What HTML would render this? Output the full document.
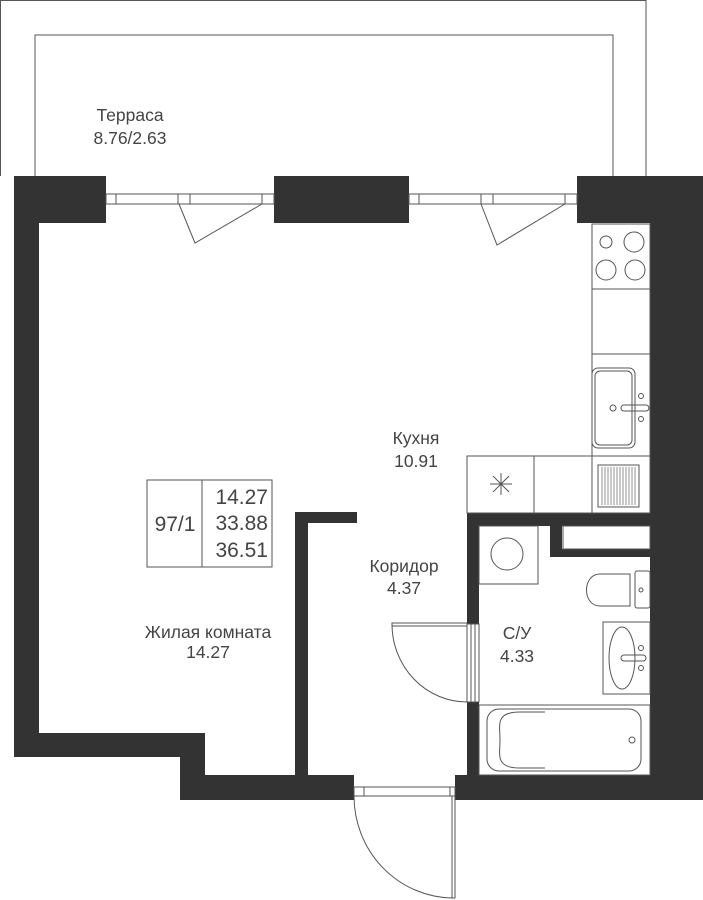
<!DOCTYPE html>
<html><head><meta charset="utf-8"><style>
html,body{margin:0;padding:0;background:#fff;}
svg{display:block;}
text{font-family:"Liberation Sans",sans-serif;fill:#444;}
</style></head><body>
<svg width="703" height="900" viewBox="0 0 703 900" xmlns="http://www.w3.org/2000/svg">
<g fill="none" stroke="#555" stroke-width="1">
<polyline points="0.5,176 0.5,0.5 646,0.5 646,176"/>
<polyline points="35,176 35,35 613,35 613,176"/>
</g>
<g fill="#333">
<rect x="14" y="176" width="92" height="47"/>
<rect x="274" y="176" width="135" height="47"/>
<rect x="577" y="176" width="126" height="47"/>
<rect x="14" y="176" width="25" height="581"/>
<rect x="14" y="733" width="191" height="24"/>
<rect x="180" y="733" width="25" height="67"/>
<rect x="180" y="775" width="174" height="25"/>
<rect x="295" y="512" width="13" height="263"/>
<rect x="295" y="512" width="62" height="11"/>
<rect x="650" y="176" width="53" height="624"/>
<rect x="455" y="775" width="248" height="25"/>
<rect x="467" y="513" width="183" height="13"/>
<rect x="467" y="513" width="12" height="111"/>
<rect x="467" y="702" width="12" height="73"/>
<rect x="550" y="526" width="12" height="31"/>
<rect x="550" y="549" width="100" height="8"/>
</g>
<g fill="none" stroke="#555" stroke-width="1">
<rect x="106" y="194" width="168" height="10"/>
<line x1="116" y1="194" x2="116" y2="204"/><line x1="178" y1="194" x2="178" y2="204"/><line x1="190" y1="194" x2="190" y2="204"/><line x1="262" y1="194" x2="262" y2="204"/>
<polyline points="179,204 195,243 262,204"/>
<rect x="409" y="194" width="168" height="10"/>
<line x1="419" y1="194" x2="419" y2="204"/><line x1="481" y1="194" x2="481" y2="204"/><line x1="493" y1="194" x2="493" y2="204"/><line x1="565" y1="194" x2="565" y2="204"/>
<polyline points="481,204 497,245 565,204"/>
<rect x="592" y="224" width="58" height="232"/>
<line x1="592" y1="289" x2="650" y2="289"/>
<line x1="592" y1="354" x2="650" y2="354"/>
<circle cx="606" cy="242" r="6"/><circle cx="634" cy="242" r="10"/>
<circle cx="606" cy="270" r="10"/><circle cx="635" cy="270" r="10"/>
<rect x="592" y="368" width="43" height="80" rx="6"/>
<rect x="595" y="371" width="37" height="74" rx="5"/>
<circle cx="613" cy="408" r="3"/>
<rect x="621" y="405" width="28" height="6" rx="3"/>
<circle cx="641" cy="396" r="2.5"/><circle cx="641" cy="419" r="2.5"/>
<rect x="467" y="456" width="183" height="57"/>
<line x1="534" y1="456" x2="534" y2="513"/>
<line x1="592" y1="456" x2="592" y2="513"/>
<line x1="490" y1="484" x2="512" y2="484"/><line x1="501" y1="473" x2="501" y2="495"/>
<line x1="493" y1="476" x2="509" y2="492"/><line x1="509" y1="476" x2="493" y2="492"/>
<rect x="598" y="465" width="41" height="42"/>
</g>
<g stroke="#777" stroke-width="0.8">
<line x1="602" y1="467" x2="602" y2="505"/><line x1="605" y1="467" x2="605" y2="505"/><line x1="608" y1="467" x2="608" y2="505"/><line x1="611" y1="467" x2="611" y2="505"/><line x1="614" y1="467" x2="614" y2="505"/><line x1="617" y1="467" x2="617" y2="505"/><line x1="620" y1="467" x2="620" y2="505"/><line x1="623" y1="467" x2="623" y2="505"/><line x1="626" y1="467" x2="626" y2="505"/><line x1="629" y1="467" x2="629" y2="505"/><line x1="632" y1="467" x2="632" y2="505"/><line x1="635" y1="467" x2="635" y2="505"/>
</g>
<g fill="none" stroke="#555" stroke-width="1">
<rect x="563" y="526" width="87" height="23"/>
<rect x="479" y="526" width="59" height="58"/>
<circle cx="507" cy="554" r="16"/>
<rect x="635" y="571" width="15" height="37" rx="2"/>
<path d="M630,574 L600,574 C582,574 582,606 600,606 L630,606 Z"/>
<circle cx="641" cy="590" r="2"/>
<rect x="603" y="622" width="47" height="72"/>
<ellipse cx="622" cy="658" rx="13" ry="31"/>
<rect x="621" y="655" width="25" height="6" rx="3"/>
<circle cx="641" cy="648" r="2.5"/><circle cx="641" cy="668" r="2.5"/>
<rect x="479" y="705" width="171" height="70"/>
<rect x="487" y="709" width="154" height="62" rx="12"/>
<path d="M545,712 L520,712 C495,712 500,725 500,740 C500,755 495,768 520,768 L545,768"/>
<circle cx="632" cy="740" r="3"/>
<rect x="467" y="624" width="12" height="78"/>
<line x1="471" y1="624" x2="471" y2="702"/><line x1="475" y1="624" x2="475" y2="702"/>
<rect x="392" y="623" width="75" height="3"/>
<path d="M392,624 A75,78 0 0 0 467,702"/>
<rect x="354" y="787" width="101" height="9"/>
<line x1="364" y1="787" x2="364" y2="796"/><line x1="450" y1="787" x2="450" y2="796"/>
<rect x="452" y="796" width="3" height="102"/>
<path d="M354,796 A100,102 0 0 0 452,898"/>
<rect x="147" y="480" width="125" height="87"/>
<line x1="202" y1="480" x2="202" y2="567"/>
</g>
<g font-size="17.5" text-anchor="middle">
<text x="130" y="121">Терраса</text>
<text x="130" y="144">8.76/2.63</text>
<text x="416" y="444">Кухня</text>
<text x="416" y="467">10.91</text>
<text x="404" y="572">Коридор</text>
<text x="404" y="594">4.37</text>
<text x="517" y="639">С/У</text>
<text x="517" y="662">4.33</text>
<text x="208" y="638">Жилая комната</text>
<text x="208" y="658">14.27</text>
</g>
<g font-size="21">
<text x="175" y="531" text-anchor="middle">97/1</text>
<text x="268" y="504" text-anchor="end">14.27</text>
<text x="268" y="530" text-anchor="end">33.88</text>
<text x="268" y="557" text-anchor="end">36.51</text>
</g>
</svg>
</body></html>
